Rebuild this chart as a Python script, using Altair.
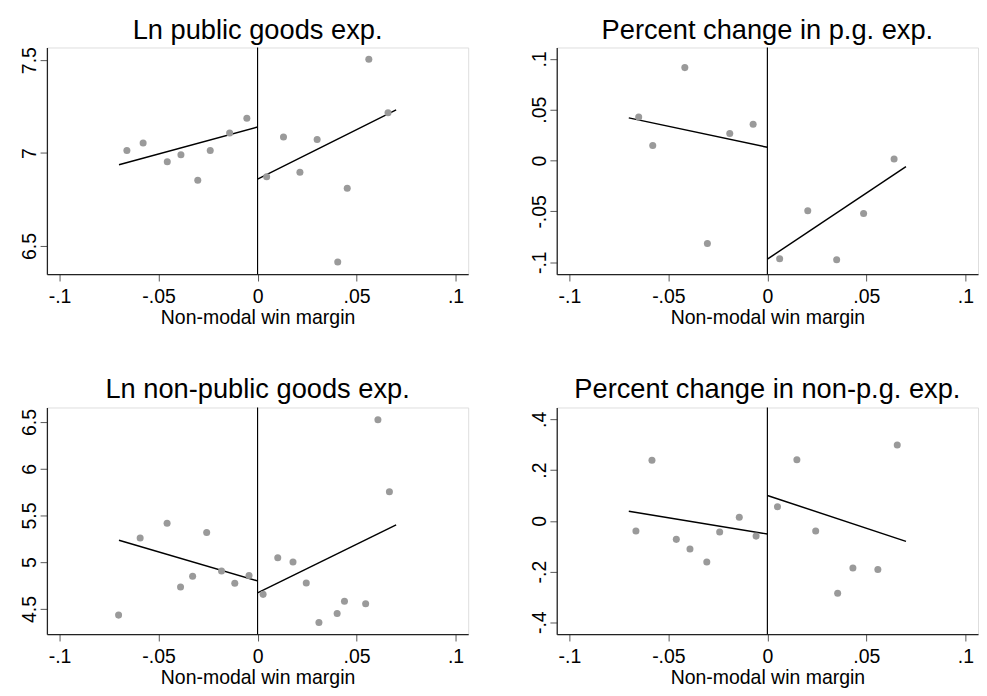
import altair as alt
import pandas as pd

FONT = "Liberation Sans"

# ---- Panel 1: Ln public goods exp.
p1_x = [-0.066, -0.0578, -0.0456, -0.0387, -0.0302, -0.0239, -0.0141, -0.0054,
        0.0046, 0.0131, 0.0214, 0.0301, 0.0405, 0.0453, 0.0562, 0.0659]
p1_y = [7.014, 7.054, 6.953, 6.991, 6.853, 7.014, 7.108, 7.187,
        6.873, 7.086, 6.897, 7.073, 6.414, 6.810, 7.505, 7.217]
p1_fit_left = [6.937, 7.140]
p1_fit_right = [6.860, 7.232]

# ---- Panel 2: Percent change in p.g. exp.
p2_x = [-0.065, -0.0579, -0.0417, -0.0303, -0.019, -0.0072,
        0.0062, 0.0204, 0.035, 0.0486, 0.064]
p2_y = [0.0428, 0.0147, 0.0914, -0.0817, 0.0265, 0.0358,
        -0.0967, -0.0494, -0.0977, -0.052, 0.0016]
p2_fit_left = [0.042, 0.013]
p2_fit_right = [-0.097, -0.006]

# ---- Panel 3: Ln non-public goods exp.
p3_x = [-0.0702, -0.0593, -0.0457, -0.0389, -0.0328, -0.0257, -0.0182, -0.0115, -0.0043,
        0.0028, 0.0102, 0.0179, 0.0246, 0.031, 0.0402, 0.0439, 0.0546, 0.0608, 0.0666]
p3_y = [4.434, 5.260, 5.417, 4.736, 4.851, 5.319, 4.906, 4.774, 4.858,
        4.656, 5.049, 5.003, 4.778, 4.354, 4.451, 4.583, 4.556, 6.524, 5.753]
p3_fit_left = [5.236, 4.800]
p3_fit_right = [4.672, 5.400]

# ---- Panel 4: Percent change in non-p.g. exp.
p4_x = [-0.0664, -0.0583, -0.046, -0.0391, -0.0306, -0.0241, -0.0142, -0.0057,
        0.0051, 0.0149, 0.0244, 0.0355, 0.0432, 0.0558, 0.0656]
p4_y = [-0.0397, 0.2385, -0.0731, -0.1115, -0.1628, -0.0436, 0.0141, -0.0603,
        0.0551, 0.241, -0.0397, -0.2859, -0.1859, -0.1923, 0.2987]
p4_fit_left = [0.038, -0.052]
p4_fit_right = [0.100, -0.081]

fit_x_left = [-0.07, 0.0]
fit_x_right = [0.0, 0.07]

x_ticks = [-0.1, -0.05, 0, 0.05, 0.1]
x_domain = [-0.1064, 0.1064]
x_title = "Non-modal win margin"

titles = ["Ln public goods exp.", "Percent change in p.g. exp.",
          "Ln non-public goods exp.", "Percent change in non-p.g. exp."]

W, H = 433, 233

# Stata style labels: drop leading zero, ASCII minus (-.05, .1)
LABEL_EXPR = ("(datum.value < 0 ? '-' : '') + "
              "replace(format(abs(datum.value), '~g'), /^0\\./, '.')")


def panel(title, xs, ys, fl, fr, y_ticks, y_domain, title_gap):
    pts = pd.DataFrame({"x": xs, "y": ys})
    fits = pd.DataFrame({
        "x": fit_x_left + fit_x_right,
        "y": fl + fr,
        "side": ["L", "L", "R", "R"],
    })
    xenc = alt.X("x:Q", scale=alt.Scale(domain=x_domain, nice=False, zero=False),
                 axis=alt.Axis(values=x_ticks, title=x_title, labelExpr=LABEL_EXPR,
                               grid=False, tickSize=7, tickColor="#555555",
                               domainColor="#222222", domainWidth=1.3,
                               labelFontSize=20, titleFontSize=20,
                               labelFont=FONT, titleFont=FONT, labelColor="black",
                               titleColor="black", titleFontWeight="normal",
                               labelPadding=6, titlePadding=2, labelFlush=False))
    yenc = alt.Y("y:Q", scale=alt.Scale(domain=y_domain, nice=False, zero=False),
                 axis=alt.Axis(values=y_ticks, title=None, labelExpr=LABEL_EXPR,
                               grid=False, tickSize=7, tickColor="#555555",
                               domainColor="#222222", domainWidth=1.3,
                               labelFontSize=20, labelFont=FONT, labelColor="black",
                               labelAngle=-90, labelAlign="center",
                               labelBaseline="bottom", labelPadding=1,
                               labelFlush=False))
    scatter = alt.Chart(pts).mark_circle(size=52, color="#9a9a9a", opacity=1).encode(
        x=xenc, y=yenc)
    lines = alt.Chart(fits).mark_line(color="black", strokeWidth=1.5).encode(
        x="x:Q", y="y:Q", detail="side:N")
    vline = alt.Chart(pd.DataFrame({"x": [0.0]})).mark_rule(
        color="black", strokeWidth=1.2).encode(x="x:Q")
    ttl = alt.Chart(pd.DataFrame({"t": [title]})).mark_text(
        fontSize=28, font=FONT, color="black", align="center",
        baseline="alphabetic").encode(
        text="t:N", x=alt.value(W / 2), y=alt.value(-title_gap))
    return alt.layer(vline, lines, scatter, ttl).properties(width=W, height=H)


c1 = panel(titles[0], p1_x, p1_y, p1_fit_left, p1_fit_right,
           [6.5, 7, 7.5], [6.348, 7.568], 9)
c2 = panel(titles[1], p2_x, p2_y, p2_fit_left, p2_fit_right,
           [-0.1, -0.05, 0, 0.05, 0.1], [-0.1118, 0.1112], 9)
c3 = panel(titles[2], p3_x, p3_y, p3_fit_left, p3_fit_right,
           [4.5, 5, 5.5, 6, 6.5], [4.23, 6.656], 9.5)
c4 = panel(titles[3], p4_x, p4_y, p4_fit_left, p4_fit_right,
           [-0.4, -0.2, 0, 0.2, 0.4], [-0.447, 0.447], 9.5)

chart = alt.vconcat(
    alt.hconcat(c1, c2, spacing=61),
    alt.hconcat(c3, c4, spacing=61),
    spacing=49,
).configure_view(stroke="#222222", strokeWidth=1.3).configure(
    background="white", padding={"left": 11, "top": -1, "right": 0, "bottom": 0})

chart.save("out.html", embed_options={"renderer": "svg", "actions": False})
